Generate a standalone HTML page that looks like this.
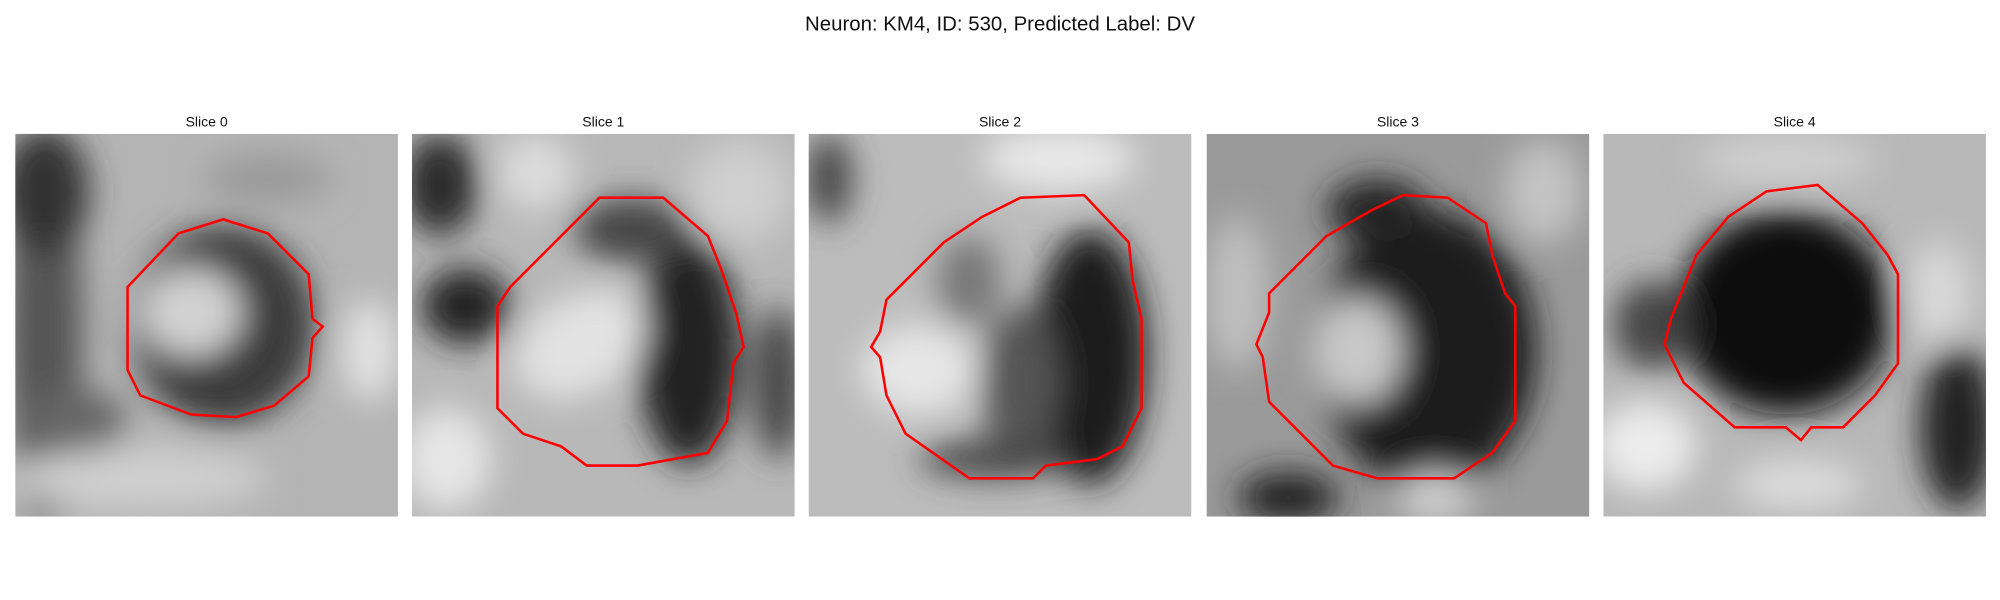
<!DOCTYPE html>
<html><head><meta charset="utf-8"><style>
html,body{margin:0;padding:0;background:#fff;}
svg{display:block;}
text{font-family:"Liberation Sans","DejaVu Sans",sans-serif;}
</style></head><body>
<svg width="2000" height="600" viewBox="0 0 1568 470.4" preserveAspectRatio="none">
<defs>
<filter id="bl" x="-20%" y="-20%" width="140%" height="140%"><feGaussianBlur stdDeviation="13"/></filter>
<clipPath id="c0"><rect x="12" y="105" width="300" height="300"/></clipPath>
<clipPath id="c1"><rect x="323" y="105" width="300" height="300"/></clipPath>
<clipPath id="c2"><rect x="634" y="105" width="300" height="300"/></clipPath>
<clipPath id="c3"><rect x="946" y="105" width="300" height="300"/></clipPath>
<clipPath id="c4"><rect x="1257" y="105" width="300" height="300"/></clipPath>
</defs>
<text x="784" y="24" font-size="16" text-anchor="middle" fill="#111">Neuron: KM4, ID: 530, Predicted Label: DV</text>

<g>
<text x="162" y="99" font-size="11" text-anchor="middle" fill="#111">Slice 0</text>
<g clip-path="url(#c0)"><rect x="12" y="105" width="300" height="300" fill="#b4b4b4"/>
<g filter="url(#bl)">
<ellipse cx="35" cy="260" rx="30" ry="150" fill="#555"/>
<ellipse cx="35" cy="150" rx="35" ry="50" fill="#333"/>
<ellipse cx="110" cy="375" rx="100" ry="25" fill="#cfcfcf"/>
<ellipse cx="175" cy="255" rx="72" ry="78" fill="#3a3a3a"/>
<ellipse cx="150" cy="245" rx="40" ry="35" fill="#d2d2d2"/>
<ellipse cx="290" cy="275" rx="22" ry="40" fill="#e2e2e2"/>
<ellipse cx="210" cy="140" rx="50" ry="20" fill="#9a9a9a"/>
<ellipse cx="60" cy="330" rx="40" ry="25" fill="#666"/>
</g></g>
<polygon fill="none" stroke="#f00" stroke-width="2" points="100,225 140,183 175,172 210,183 242,215 245,250 253,256 245,265 242,295 215,318 185,327 150,325 110,310 100,290"/>
</g>

<g>
<text x="473" y="99" font-size="11" text-anchor="middle" fill="#111">Slice 1</text>
<g clip-path="url(#c1)"><rect x="323" y="105" width="300" height="300" fill="#b8b8b8"/>
<g filter="url(#bl)">
<ellipse cx="345" cy="145" rx="30" ry="40" fill="#2a2a2a"/>
<ellipse cx="365" cy="240" rx="35" ry="30" fill="#222"/>
<ellipse cx="540" cy="275" rx="40" ry="90" fill="#222"/>
<ellipse cx="495" cy="180" rx="45" ry="25" fill="#444"/>
<ellipse cx="455" cy="270" rx="55" ry="38" fill="#e2e2e2" transform="rotate(-30 455 270)"/>
<ellipse cx="350" cy="360" rx="35" ry="40" fill="#e6e6e6"/>
<ellipse cx="420" cy="135" rx="30" ry="30" fill="#dcdcdc"/>
<ellipse cx="610" cy="300" rx="20" ry="60" fill="#444"/>
<ellipse cx="580" cy="150" rx="40" ry="40" fill="#cfcfcf"/>
</g></g>
<polygon fill="none" stroke="#f00" stroke-width="2" points="390,240 400,225 470,155 520,155 555,185 565,210 577,245 583,272 575,285 570,330 555,355 500,365 460,365 440,350 410,340 390,320"/>
</g>

<g>
<text x="784" y="99" font-size="11" text-anchor="middle" fill="#111">Slice 2</text>
<g clip-path="url(#c2)"><rect x="634" y="105" width="300" height="300" fill="#bcbcbc"/>
<g filter="url(#bl)">
<ellipse cx="855" cy="280" rx="45" ry="100" fill="#1e1e1e"/>
<ellipse cx="800" cy="300" rx="30" ry="60" fill="#555"/>
<ellipse cx="720" cy="290" rx="45" ry="35" fill="#e6e6e6"/>
<ellipse cx="830" cy="125" rx="60" ry="25" fill="#e8e8e8"/>
<ellipse cx="650" cy="140" rx="18" ry="35" fill="#444"/>
<ellipse cx="760" cy="220" rx="25" ry="35" fill="#777"/>
<ellipse cx="780" cy="360" rx="60" ry="15" fill="#444"/>
</g></g>
<polygon fill="none" stroke="#f00" stroke-width="2" points="695,235 740,190 770,170 800,155 850,153 885,190 888,220 895,250 895,320 880,350 860,360 820,365 810,375 760,375 710,340 695,310 690,280 683,272 690,260"/>
</g>

<g>
<text x="1096" y="99" font-size="11" text-anchor="middle" fill="#111">Slice 3</text>
<g clip-path="url(#c3)"><rect x="946" y="105" width="300" height="300" fill="#9a9a9a"/>
<g filter="url(#bl)">
<ellipse cx="1120" cy="275" rx="85" ry="110" fill="#1a1a1a"/>
<ellipse cx="1080" cy="165" rx="40" ry="25" fill="#222"/>
<ellipse cx="1065" cy="275" rx="35" ry="42" fill="#c8c8c8"/>
<ellipse cx="970" cy="230" rx="25" ry="60" fill="#c0c0c0"/>
<ellipse cx="1010" cy="390" rx="40" ry="20" fill="#202020"/>
<ellipse cx="1125" cy="390" rx="30" ry="20" fill="#d0d0d0"/>
<ellipse cx="1210" cy="150" rx="30" ry="40" fill="#c4c4c4"/>
</g></g>
<polygon fill="none" stroke="#f00" stroke-width="2" points="995,230 1040,185 1075,165 1100,153 1135,155 1165,175 1170,200 1180,230 1188,240 1188,330 1170,355 1140,375 1080,375 1045,365 995,315 990,280 985,270 995,245"/>
</g>

<g>
<text x="1407" y="99" font-size="11" text-anchor="middle" fill="#111">Slice 4</text>
<g clip-path="url(#c4)"><rect x="1257" y="105" width="300" height="300" fill="#b8b8b8"/>
<g filter="url(#bl)">
<ellipse cx="1400" cy="245" rx="85" ry="80" fill="#111"/>
<ellipse cx="1295" cy="255" rx="30" ry="35" fill="#444"/>
<ellipse cx="1290" cy="350" rx="40" ry="35" fill="#ececec"/>
<ellipse cx="1410" cy="380" rx="50" ry="20" fill="#dcdcdc"/>
<ellipse cx="1535" cy="335" rx="30" ry="65" fill="#222"/>
<ellipse cx="1520" cy="230" rx="25" ry="40" fill="#d8d8d8"/>
<ellipse cx="1400" cy="125" rx="70" ry="20" fill="#cfcfcf"/>
</g></g>
<polygon fill="none" stroke="#f00" stroke-width="2" points="1310,250 1330,200 1355,170 1385,150 1425,145 1460,175 1480,200 1488,215 1488,285 1470,310 1445,335 1420,335 1412,345 1400,335 1360,335 1320,300 1305,270"/>
</g>
</svg>
</body></html>
